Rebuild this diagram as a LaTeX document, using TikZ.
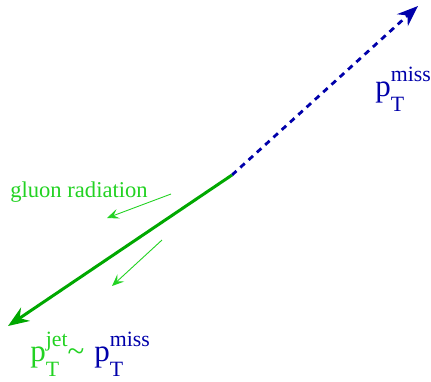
\documentclass[tikz,border=0pt]{standalone}
\usepackage{fontspec}
\setmainfont{Liberation Serif}
\usetikzlibrary{arrows.meta}
\definecolor{jetgreen}{RGB}{0,168,0}
\definecolor{gluongreen}{RGB}{34,210,34}
\definecolor{metblue}{RGB}{0,0,170}
\newcommand{\scriptsz}{\fontsize{10.9}{12}\selectfont}
\newcommand{\ptlab}[1]{p\rlap{\raisebox{-7.5pt}{\scriptsz T}}\raisebox{7.5pt}{\scriptsz #1}}

\begin{document}
\begin{tikzpicture}[x=0.5pt,y=-0.5pt,
    bigtip/.style={-{Stealth[length=10.5pt,width=8pt,inset=3.5pt]}},
    smalltip/.style={-{Stealth[length=6pt,width=5pt,inset=2.5pt]}},
    jetline/.style={jetgreen,line width=1.5pt,bigtip},
    metline/.style={metblue,line width=1.4pt,dash pattern=on 3pt off 2.6pt,bigtip},
    radline/.style={gluongreen,line width=0.45pt,smalltip},
    biglab/.style={inner sep=0pt,font=\fontsize{15.5}{18}\selectfont}]
  \useasboundingbox (0,0) rectangle (431,381);

  % vertex, jet and missing-momentum directions
  \coordinate (vtx) at (232,175);
  \coordinate (jetend) at (8,326);
  \coordinate (metend) at (418,6);
  \draw[metline] (vtx) -- (metend);
  \draw[jetline] (vtx) -- (jetend);

  % radiated gluons
  \coordinate (radA) at (171,194);
  \coordinate (radAend) at (107,218);
  \coordinate (radB) at (162,240);
  \coordinate (radBend) at (112,286);
  \draw[radline] (radA) -- (radAend);
  \draw[radline] (radB) -- (radBend);

  % labels
  \node[anchor=base,inner sep=0pt,text=gluongreen,
        font=\fontsize{11.3}{13}\selectfont] (gluon) at (79,197) {gluon radiation};
  \node[biglab,anchor=base west,text=metblue] (metlab) at (375,96) {\ptlab{miss}};
  \node[biglab,anchor=base west,text=gluongreen] (jetlab) at (30,361)
    {\ptlab{jet}\textasciitilde};
  \node[biglab,anchor=base west,text=metblue] (balance) at (94,361) {\ptlab{miss}};
\end{tikzpicture}
\end{document}
